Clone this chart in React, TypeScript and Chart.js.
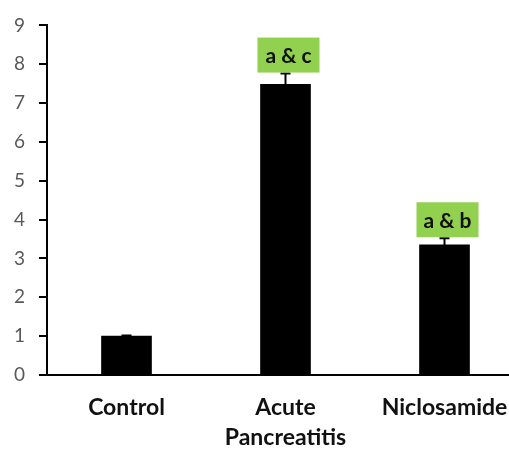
import React, { useEffect, useRef } from "react";
import { Chart, registerables } from "chart.js";

Chart.register(...registerables);

const categories: (string | string[])[] = ["Control", ["Acute", "Pancreatitis"], "Niclosamide"];
const values = [1.0, 7.48, 3.35];
const errors = [0.02, 0.28, 0.17];
const annotations = ["", "a & c", "a & b"];
const yTicks = [0, 1, 2, 3, 4, 5, 6, 7, 8, 9];

const overlayPlugin = {
  id: "overlay",
  afterDatasetsDraw(chart: any) {
    const ctx = chart.ctx;
    const meta = chart.getDatasetMeta(0);
    const y = chart.scales.y;
    ctx.save();
    meta.data.forEach((bar: any, i: number) => {
      const x = bar.x;
      const top = y.getPixelForValue(values[i] + errors[i]);
      const bot = y.getPixelForValue(values[i] - errors[i]);
      ctx.strokeStyle = "#000";
      ctx.lineWidth = 2;
      ctx.beginPath();
      ctx.moveTo(x, bot);
      ctx.lineTo(x, top);
      ctx.moveTo(x - 5, top);
      ctx.lineTo(x + 5, top);
      ctx.stroke();
      if (annotations[i]) {
        const w = 62;
        const h = 35;
        const bx = x + 3 - w / 2;
        const by = top - 1 - h;
        ctx.fillStyle = "#92D050";
        ctx.fillRect(bx, by, w, h);
        ctx.fillStyle = "#111";
        ctx.font = "bold 21px Lato";
        ctx.textAlign = "center";
        ctx.textBaseline = "middle";
        ctx.fillText(annotations[i], x + 3, by + h / 2 + 1);
      }
    });
    ctx.restore();
  },
};

export default function App() {
  const ref = useRef<HTMLCanvasElement>(null);
  useEffect(() => {
    if (!ref.current) return;
    const chart = new Chart(ref.current, {
      type: "bar",
      data: {
        labels: categories,
        datasets: [
          {
            data: values,
            backgroundColor: "#000",
            borderWidth: 0,
            barThickness: 50,
          },
        ],
      },
      options: {
        animation: false,
        responsive: false,
        maintainAspectRatio: false,
        layout: { padding: { top: 24, right: 0, bottom: 0, left: 0 } },
        plugins: { legend: { display: false }, tooltip: { enabled: false } },
        scales: {
          x: {
            grid: { display: false },
            border: { display: true, color: "#000", width: 2 },
            ticks: {
              color: "#111",
              font: { family: "Lato", size: 23, weight: "bold", lineHeight: 1.3 },
              padding: 10,
              maxRotation: 0,
              autoSkip: false,
            },
            afterFit: (s: any) => {
              s.height = 74;
            },
          },
          y: {
            min: 0,
            max: 9,
            afterBuildTicks: (s: any) => {
              s.ticks = yTicks.map((v) => ({ value: v }));
            },
            grid: {
              display: true,
              drawOnChartArea: false,
              drawTicks: true,
              tickLength: 8,
              color: "#000",
              lineWidth: 2,
            },
            border: { display: true, color: "#000", width: 2 },
            ticks: {
              color: "#595959",
              font: { family: "Lato", size: 19 },
              padding: 14,
            },
            afterFit: (s: any) => {
              s.width = 47;
            },
          },
        },
      },
      plugins: [overlayPlugin],
    });
    return () => chart.destroy();
  }, []);
  return (
    <div style={{ position: "absolute", left: 0, top: 0, width: 509, height: 449, overflow: "hidden", background: "#fff" }}>
      <canvas ref={ref} width={524} height={449} style={{ display: "block" }} />
    </div>
  );
}
